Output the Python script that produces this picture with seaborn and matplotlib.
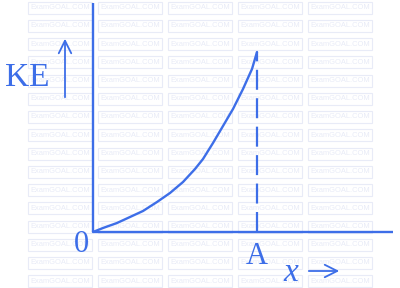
import matplotlib
matplotlib.use("Agg")
import matplotlib.pyplot as plt
import seaborn as sns
import pandas as pd
from matplotlib.patches import Rectangle

# data (units: pixels relative to the origin)
x_pos = [0, 10, 24, 37, 50, 64, 77, 90, 102, 110, 120, 130, 140, 150, 159, 164]
ke_vals = [0, 4, 9, 15, 21, 30, 39, 50, 63, 73, 89, 106, 123, 143, 163, 180]
point_A = 164
labels = {"y": "KE", "x": "x", "origin": "0", "A": "A"}
watermark = "ExamGOAL.COM"

BLUE = "#3d6ee8"
WM = "#e8ebf7"

sns.set_style("white")
plt.rcParams["font.family"] = ["Liberation Serif", "DejaVu Serif"]

fig = plt.figure(figsize=(4.0, 2.88), dpi=100)
ax = fig.add_axes([0, 0, 1, 1])
ax.set_xlim(-93, 307)
ax.set_ylim(-56, 232)
ax.axis("off")

# faint watermark tiles
for r in range(16):
    yc = 232 - (7.5 + 18.25 * r)
    for c in range(0, 5):
        x0 = 28 + 70 * c - 93
        ax.add_patch(Rectangle((x0, yc - 6), 64, 12, fill=False, edgecolor=WM,
                               lw=0.8, zorder=0))
        ax.text(x0 + 32, yc, watermark, color=WM, fontsize=5.4,
                family=["Liberation Sans", "DejaVu Sans"], ha="center", va="center",
                zorder=0)

# axes lines
ax.plot([0, 0], [0, 229], color=BLUE, lw=1.7, solid_capstyle="butt", zorder=3)
ax.plot([0, 300], [0, 0], color=BLUE, lw=1.7, solid_capstyle="butt", zorder=3)

# curve
df = pd.DataFrame({"x": x_pos, "KE": ke_vals})
sns.lineplot(data=df, x="x", y="KE", ax=ax, color=BLUE, lw=1.7, zorder=4,
             estimator=None, sort=False)
ax.set_xlabel("")
ax.set_ylabel("")

# dashed drop line at A
ax.plot([point_A, point_A], [0, ke_vals[-1]], color=BLUE, lw=1.6,
        dashes=(9, 3.8), zorder=3)

# labels
ax.text(-66, 154, labels["y"], color=BLUE, fontsize=24, ha="center", va="center")
ax.text(-12, -12, labels["origin"], color=BLUE, fontsize=22, ha="center", va="center")
ax.text(point_A, -24, labels["A"], color=BLUE, fontsize=22, ha="center", va="center")
ax.text(198, -41, labels["x"], color=BLUE, fontsize=24, style="italic",
        ha="center", va="center")

# arrows
ax.annotate("", xy=(-28, 196), xytext=(-28, 132),
            arrowprops=dict(arrowstyle="->,head_length=0.9,head_width=0.45",
                            color=BLUE, lw=1.3))
ax.annotate("", xy=(249, -39), xytext=(213, -39),
            arrowprops=dict(arrowstyle="->,head_length=0.9,head_width=0.45",
                            color=BLUE, lw=1.3))

fig.savefig("out.png", dpi=100)
